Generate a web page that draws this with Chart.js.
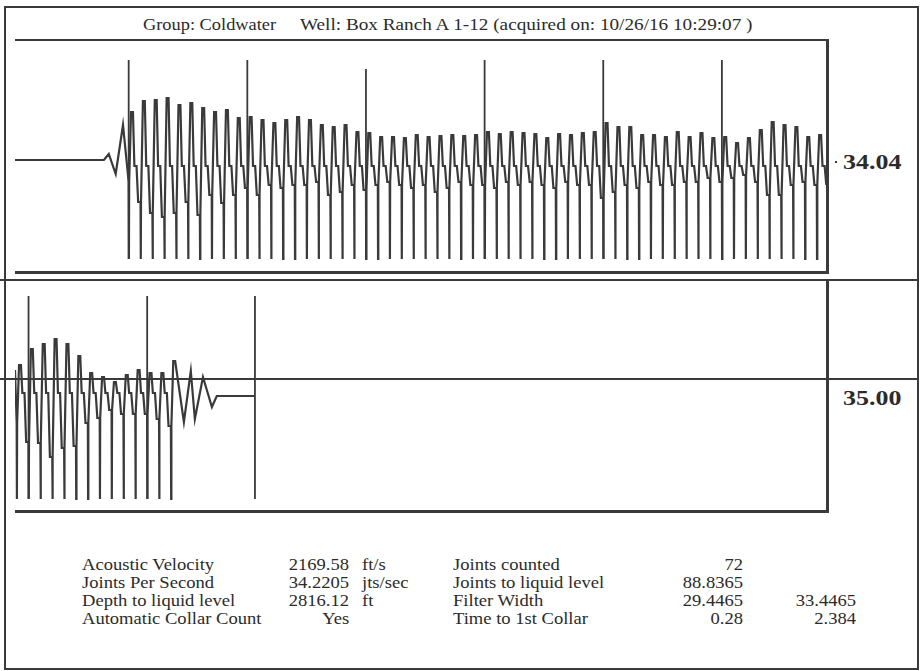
<!DOCTYPE html>
<html>
<head>
<meta charset="utf-8">
<title>Acoustic shot</title>
<script src="https://cdn.jsdelivr.net/npm/chart.js@4.4.0/dist/chart.umd.min.js"></script>
<style>
  body { margin: 0; background: #fff; }
  #page { position: relative; width: 920px; height: 671px; overflow: hidden; font-family: 'Liberation Serif', 'DejaVu Serif', serif; color: #2b2b2b; }
  .ln { position: absolute; background: #3a3a3a; }
  .t { position: absolute; white-space: nowrap; line-height: 1; font-size: 16px; }
  .l { transform: scaleX(1.16); transform-origin: left center; }
  .r { transform: scaleX(1.16); transform-origin: right center; text-align: right; }
  .big { font-size: 22px; font-weight: bold; transform: scaleX(1.18); transform-origin: left center; }
  canvas { position: absolute; }
</style>
</head>
<body>
<div id="page">
  <!-- outer frame -->
  <div class="ln" style="left:4px;top:6px;width:915px;height:1.5px"></div>
  <div class="ln" style="left:4px;top:668px;width:915px;height:1.5px"></div>
  <div class="ln" style="left:4px;top:6px;width:1.5px;height:663px"></div>
  <div class="ln" style="left:917px;top:6px;width:1.5px;height:663px"></div>

  <!-- top panel box -->
  <div class="ln" style="left:15px;top:39px;width:813px;height:1.5px"></div>
  <div class="ln" style="left:826px;top:39px;width:2.5px;height:235px"></div>
  <div class="ln" style="left:15px;top:271px;width:814px;height:3px"></div>

  <!-- bottom panel box -->
  <div class="ln" style="left:0px;top:279px;width:918px;height:1.5px"></div>
  <div class="ln" style="left:0px;top:378px;width:918px;height:1.5px"></div>
  <div class="ln" style="left:826px;top:280px;width:3px;height:233px"></div>
  <div class="ln" style="left:15px;top:510px;width:814px;height:3px"></div>

  <div class="t" style="left:143px;top:16px;font-size:17px;transform:scaleX(1.08);transform-origin:left center">Group: Coldwater</div>
  <div class="t" style="left:300px;top:16px;font-size:17px;transform:scaleX(1.13);transform-origin:left center">Well: Box Ranch A 1-12 (acquired on: 10/26/16 10:29:07 )</div>

  <div class="ln" style="left:835px;top:161px;width:2px;height:2px"></div>
  <div class="t big" style="left:843px;top:151px">34.04</div>
  <div class="t big" style="left:843px;top:387px">35.00</div>

  <canvas id="topChart" width="812" height="232" style="left:15px;top:40px"></canvas>
  <canvas id="bottomChart" width="812" height="232" style="left:15px;top:280px"></canvas>

  <!-- results table -->
  <div class="t l" style="left:82px;top:557px">Acoustic Velocity</div>
  <div class="t l" style="left:82px;top:575px">Joints Per Second</div>
  <div class="t l" style="left:82px;top:593px">Depth to liquid level</div>
  <div class="t l" style="left:82px;top:611px">Automatic Collar Count</div>

  <div class="t r" style="right:571px;top:557px">2169.58</div>
  <div class="t r" style="right:571px;top:575px">34.2205</div>
  <div class="t r" style="right:571px;top:593px">2816.12</div>
  <div class="t r" style="right:571px;top:611px">Yes</div>

  <div class="t l" style="left:362px;top:557px">ft/s</div>
  <div class="t l" style="left:362px;top:575px">jts/sec</div>
  <div class="t l" style="left:362px;top:593px">ft</div>

  <div class="t l" style="left:453px;top:557px">Joints counted</div>
  <div class="t l" style="left:453px;top:575px">Joints to liquid level</div>
  <div class="t l" style="left:453px;top:593px">Filter Width</div>
  <div class="t l" style="left:453px;top:611px">Time to 1st Collar</div>

  <div class="t r" style="right:177px;top:557px">72</div>
  <div class="t r" style="right:177px;top:575px">88.8365</div>
  <div class="t r" style="right:177px;top:593px">29.4465</div>
  <div class="t r" style="right:177px;top:611px">0.28</div>

  <div class="t r" style="right:64px;top:593px">33.4465</div>
  <div class="t r" style="right:64px;top:611px">2.384</div>
</div>

<script>
'use strict';
// timing from the results table
let firstCollar = 0.28;
let jointsPerSecond = 34.2205;

// top trace, 0 - 2 s : peak after each collar and level at each collar
let topPeaks = [48, 59, 60, 62, 55, 57, 52, 48, 50, 42,
                43, 40, 37, 40, 43, 40, 35, 33, 35, 28,
                27, 23, 23, 22, 25, 23, 24, 25, 24, 25,
                28, 26, 28, 27, 26, 22, 26, 25, 27, 28,
                37, 33, 33, 25, 25, 23, 28, 23, 27, 22,
                23, 17, 22, 30, 38, 35, 33, 23, 25];
let topTroughs = [-22, -42, -53, -57, -53, -42, -55, -35, -43, -35,
                  -28, -35, -25, -28, -25, -25, -22, -35, -32, -25,
                  -30, -25, -22, -25, -28, -25, -32, -28, -22, -25,
                  -25, -28, -22, -25, -22, -25, -28, -22, -25, -25,
                  -38, -32, -25, -28, -22, -25, -25, -22, -22, -18,
                  -22, -18, -15, -22, -35, -35, -25, -22, -25, -25];
let topShoulder = -6;
let topLeadTimes = [0, 0.219, 0.231, 0.248, 0.266];
let topLeadValues = [0, 0, 6, -14, 35];
let topMarkerJoints = [0, 10, 20, 30, 40, 50];
let topMarkerTops = [100, 100, 91, 100, 100, 100];

// bottom trace, 2 - 4 s
let bottomFirstJoint = 59;
let bottomPeaks = [14, 30, 35, 40, 35, 23, 6, 2, -3, 4, 9, 6, 6, 18];
let bottomTroughs = [-44, -63, -64, -78, -69, -67, -44, -39, -31, -35, -35, -35, -40, -47];
let bottomShoulder = -14;
let bottomLeadTimes = [2.0];
let bottomLeadValues = [9];
let bottomTailTimes = [2.416, 2.433, 2.443, 2.463, 2.485, 2.497, 2.589];
let bottomTailValues = [-43, 8, -40, 2, -28, -17, -17];
let bottomMarkerJoints = [60, 70];
let bottomMarkerTops = [83, 83];
let liquidLevelTime = 2.591;

function jointTime(k) {
    return firstCollar + k / jointsPerSecond;
}

function buildTrace(leadT, leadV, firstJoint, peaks, troughs, shoulder, tailT, tailV, floor) {
    let pts = [];
    for (let i = 0; i < leadT.length; i++) {
        pts.push({ x: leadT[i], y: leadV[i] });
    }
    let p = 1 / jointsPerSecond;
    for (let i = 0; i < peaks.length; i++) {
        let t = jointTime(firstJoint + i);
        pts.push({ x: t, y: troughs[i] });
        pts.push({ x: t + p * 0.02, y: floor });
        pts.push({ x: t + p * 0.04, y: troughs[i] });
        pts.push({ x: t + p * 0.2, y: peaks[i] });
        pts.push({ x: t + p * 0.36, y: peaks[i] });
        if (i + 1 < troughs.length) {
            // step on the way down, only when it sits between peak and next level
            if (shoulder < peaks[i] - 6 && shoulder > troughs[i + 1] + 6) {
                pts.push({ x: t + p * 0.48, y: shoulder });
                pts.push({ x: t + p * 0.66, y: shoulder });
            }
            pts.push({ x: t + p * 0.8, y: troughs[i + 1] });
        }
    }
    for (let i = 0; i < tailT.length; i++) {
        pts.push({ x: tailT[i], y: tailV[i] });
    }
    return pts;
}

function buildMarkers(times, tops, floor) {
    let pts = [];
    for (let i = 0; i < times.length; i++) {
        pts.push({ x: times[i], y: tops[i] });
        pts.push({ x: times[i], y: floor });
        pts.push({ x: times[i], y: null });
    }
    return pts;
}

function drawPanel(id, xMin, xMax, yMin, yMax, trace, markers) {
    let ctx = document.getElementById(id).getContext('2d');
    return new Chart(ctx, {
        type: 'line',
        data: {
            datasets: [{
                data: trace,
                borderColor: '#3a3a3a',
                borderWidth: 2.2,
                pointRadius: 0,
                tension: 0
            }, {
                data: markers,
                borderColor: '#3a3a3a',
                borderWidth: 1.8,
                pointRadius: 0,
                spanGaps: false
            }]
        },
        options: {
            responsive: false,
            animation: false,
            events: [],
            layout: { padding: 0 },
            plugins: { legend: { display: false }, tooltip: { enabled: false } },
            scales: {
                x: { type: 'linear', min: xMin, max: xMax, display: false },
                y: { type: 'linear', min: yMin, max: yMax, display: false }
            }
        }
    });
}

let topTrace = buildTrace(topLeadTimes, topLeadValues, 0, topPeaks, topTroughs, topShoulder, [], [], -99);
let topMarkers = buildMarkers(topMarkerJoints.map(jointTime), topMarkerTops, -99);
drawPanel('topChart', 0, 2, -112, 120, topTrace, topMarkers);

let bottomTrace = buildTrace(bottomLeadTimes, bottomLeadValues, bottomFirstJoint, bottomPeaks, bottomTroughs,
    bottomShoulder, bottomTailTimes, bottomTailValues, -120);
let bottomTimes = bottomMarkerJoints.map(jointTime).concat([liquidLevelTime]);
let bottomMarkers = buildMarkers(bottomTimes, bottomMarkerTops.concat([83]), -120);
drawPanel('bottomChart', 2, 4, -133, 99, bottomTrace, bottomMarkers);
</script>
</body>
</html>
